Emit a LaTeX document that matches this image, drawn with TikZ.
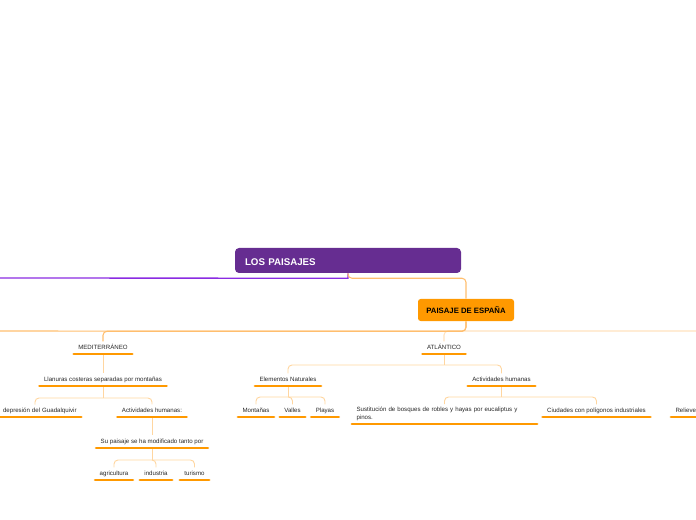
\documentclass[tikz,border=0pt]{standalone}
\usepackage{fontspec}
\setmainfont{Liberation Sans}
\usepackage{xcolor}
\definecolor{rootpurple}{RGB}{102,45,145}
\definecolor{linkpurple}{RGB}{138,43,226}
\definecolor{spainorange}{RGB}{255,153,0}
\definecolor{trunkorange}{RGB}{255,190,110}
\definecolor{twigorange}{RGB}{255,214,160}
\definecolor{paleorange}{RGB}{255,226,190}

\begin{document}
\begin{tikzpicture}[x=0.75pt, y=-0.75pt,
    rootbox/.style={rectangle, rounded corners=3pt, fill=rootpurple, text=white, font=\fontsize{7.3}{8}\selectfont\bfseries, minimum width=169.5pt, minimum height=18.75pt, inner xsep=7.5pt, text width=154.5pt, text height=7.5pt, text depth=0pt, align=left},
    branchbox/.style={rectangle, rounded corners=2pt, fill=spainorange, text=black, font=\fontsize{5.8}{6.5}\selectfont\bfseries, minimum width=72pt, minimum height=16.5pt, inner sep=0pt},
    topic/.style={anchor=south, inner xsep=3.2pt, inner ysep=2.3pt, text height=3.4pt, text depth=1.1pt, text=black!85, font=\fontsize{4.6}{5.6}\selectfont},
    topicwide/.style={anchor=south, inner xsep=3.2pt, inner ysep=2.3pt, text=black!85, font=\fontsize{4.6}{5.6}\selectfont, align=left},
    bar/.style={draw=spainorange, line width=2.2pt, line cap=round},
    twig/.style={draw=twigorange, line width=0.7pt, rounded corners=3pt},
    trunk/.style={draw=trunkorange, line width=0.8pt, rounded corners=3pt},
    pale/.style={draw=paleorange, line width=0.8pt, rounded corners=3pt}
]
\useasboundingbox (0,0) rectangle (696,520);

% Central topic and main branch
\node[rootbox] (root) at (348,260.5) {LOS PAISAJES};
\node[branchbox] (spain) at (466,310) {PAISAJE DE ESPAÑA};

% Regions
\node[topic] (med) at (103,354) {MEDITERRÁNEO};
\node[topic] (atl) at (444,354) {ATLÁNTICO};

% Mediterraneo
\node[topic] (plains) at (103,386) {Llanuras costeras separadas por montañas};
\node[topicwide, text width=62.5pt, align=right] (guad) at (35,417) {depresión del Guadalquivir};
\node[topic] (medhum) at (152,417) {Actividades humanas:};
\node[topic] (change) at (152,448) {Su paisaje se ha modificado tanto por};
\node[topic] (farm) at (114,480) {agricultura};
\node[topic] (ind) at (156,480) {industria};
\node[topic] (tour) at (194.5,480) {turismo};

% Atlantico
\node[topic] (nat) at (288,386) {Elementos Naturales};
\node[topic] (athum) at (501.5,386) {Actividades humanas};
\node[topic] (mount) at (256,417) {Montañas};
\node[topic] (vall) at (292.5,417) {Valles};
\node[topic] (beach) at (325,417) {Playas};
\node[topicwide, text width=132pt] (subst) at (444.5,424) {Sustitución de bosques de robles y hayas por eucaliptus y\\pinos.};
\node[topic] (city) at (596.5,417) {Ciudades con polígonos industriales};
\node[topic, anchor=south west] (relief) at (671,417) {Relieve};

% Free ends of the branches leaving the page
\coordinate (westend) at (0,278);
\coordinate (busW) at (0,331);
\coordinate (busE) at (696,331);

% Links from the central topic
\draw[linkpurple, line width=1pt] (root.south) -- ++(0,5) -- (westend);
\draw[trunk] (root.south) -- ++(0,5) -| (spain.north);

% Links from the main branch
\draw[pale] (busE) -| (atl.north);
\draw[trunk] (spain.south) -- ++(0,10) -| (med.north);
\draw[trunk] (spain.south) -- ++(0,10) -- (busW);

% Mediterraneo links
\draw[twig] (med.south) -- (plains.north);
\draw[twig] (plains.south) -- ++(0,12) coordinate (jplains);
\draw[twig] (guad.north) |- (jplains) -| (medhum.north);
\draw[twig] (medhum.south) -- (change.north);
\draw[twig] (change.south) -- ++(0,12) coordinate (jchange);
\draw[twig] (farm.north) |- (jchange) -| (tour.north);
\draw[twig] (jchange) -| (ind.north);

% Atlantico links
\draw[twig] (atl.south) -- ++(0,11) coordinate (jatl);
\draw[twig] (nat.north) |- (jatl) -| (athum.north);
\draw[twig] (nat.south) -- ++(0,11) coordinate (jnat);
\draw[twig] (mount.north) |- (jnat) -| (beach.north);
\draw[twig] (jnat) -| (vall.north);
\draw[twig] (athum.south) -- ++(0,11) coordinate (jathum);
\draw[twig] (subst.north) |- (jathum) -| (city.north);

% Underlines
\draw[bar] (med.south west) -- (med.south east);
\draw[bar] (atl.south west) -- (atl.south east);
\draw[bar] (plains.south west) -- (plains.south east);
\draw[bar] (guad.south west) -- (guad.south east);
\draw[bar] (medhum.south west) -- (medhum.south east);
\draw[bar] (change.south west) -- (change.south east);
\draw[bar] (farm.south west) -- (farm.south east);
\draw[bar] (ind.south west) -- (ind.south east);
\draw[bar] (tour.south west) -- (tour.south east);
\draw[bar] (nat.south west) -- (nat.south east);
\draw[bar] (athum.south west) -- (athum.south east);
\draw[bar] (mount.south west) -- (mount.south east);
\draw[bar] (vall.south west) -- (vall.south east);
\draw[bar] (beach.south west) -- (beach.south east);
\draw[bar] (subst.south west) -- (subst.south east);
\draw[bar] (city.south west) -- (city.south east);
\draw[bar] (relief.south west) -- (relief.south east);

\end{tikzpicture}
\end{document}
